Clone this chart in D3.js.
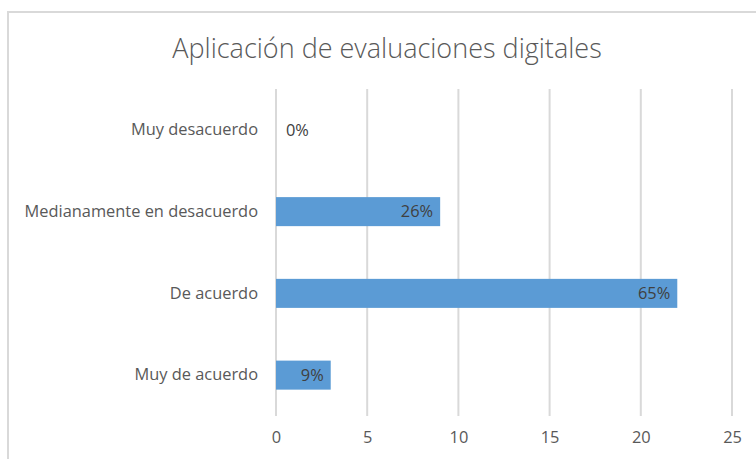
<!DOCTYPE html>
<html>
<head>
<meta charset="utf-8" />
<title>Aplicación de evaluaciones digitales</title>
<script src="https://d3js.org/d3.v7.min.js"></script>
<style>
  body { margin: 0px; background-color: white; }
  text { font-family: "Open Sans", Lato, sans-serif; }
</style>
</head>
<body>
<svg id="chart"></svg>
<script>
// data
var categories = ["Muy desacuerdo", "Medianamente en desacuerdo", "De acuerdo", "Muy de acuerdo"];
var values = [0, 9, 22, 3];
var labels = ["0%", "26%", "65%", "9%"];
var xTicks = [0, 5, 10, 15, 20, 25];

var width = 756, height = 459;
var margin = {top: 89, left: 276, right: 24, bottom: 43};

var svg = d3.select("#chart")
  .attr("width", width)
  .attr("height", height);

// chart frame (runs off the right and bottom edges)
svg.append("rect")
  .attr("x", 8).attr("y", 12)
  .attr("width", 800).attr("height", 500)
  .attr("fill", "white")
  .attr("stroke", "#d9d9d9")
  .attr("stroke-width", 2);

svg.append("text")
  .attr("x", 387).attr("y", 58)
  .attr("text-anchor", "middle")
  .attr("fill", "#595959")
  .style("font-size", "27px")
  .style("font-weight", 300)
  .text("Aplicación de evaluaciones digitales");

var x = d3.scaleLinear()
  .domain([0, 25])
  .range([margin.left, width - margin.right]);

var y = d3.scaleBand()
  .domain(categories)
  .range([margin.top, height - margin.bottom])
  .paddingInner(0.645)
  .paddingOuter(0.3225);

// gridlines
svg.append("g").selectAll("line")
  .data(xTicks)
  .join("line")
  .attr("x1", function(d) { return x(d); })
  .attr("x2", function(d) { return x(d); })
  .attr("y1", margin.top)
  .attr("y2", height - margin.bottom)
  .attr("stroke", "#d9d9d9")
  .attr("stroke-width", 2);

// x axis labels
var xAxis = d3.axisBottom(x).tickValues(xTicks).tickSize(0).tickPadding(10);
var gx = svg.append("g")
  .attr("transform", "translate(0," + (height - margin.bottom + 5) + ")")
  .call(xAxis);
gx.select(".domain").remove();
gx.selectAll("text").attr("fill", "#595959").style("font-size", "16.4px");

// y axis labels
var yAxis = d3.axisLeft(y).tickSize(0).tickPadding(18);
var gy = svg.append("g")
  .attr("transform", "translate(" + margin.left + ",0)")
  .call(yAxis);
gy.select(".domain").remove();
gy.selectAll("text").attr("fill", "#595959").style("font-size", "16.4px");

// bars
svg.append("g").selectAll("rect")
  .data(values)
  .join("rect")
  .attr("x", x(0))
  .attr("y", function(d, i) { return y(categories[i]); })
  .attr("width", function(d) { return x(d) - x(0); })
  .attr("height", y.bandwidth())
  .attr("fill", "#5b9bd5");

// data labels
svg.append("g").selectAll("text")
  .data(values)
  .join("text")
  .attr("x", function(d) { return d === 0 ? x(0) + 10 : x(d) - 7; })
  .attr("y", function(d, i) { return y(categories[i]) + y.bandwidth() / 2; })
  .attr("dy", "0.35em")
  .attr("text-anchor", function(d) { return d === 0 ? "start" : "end"; })
  .attr("fill", "#404040")
  .style("font-size", "16.4px")
  .text(function(d, i) { return labels[i]; });
</script>
</body>
</html>
